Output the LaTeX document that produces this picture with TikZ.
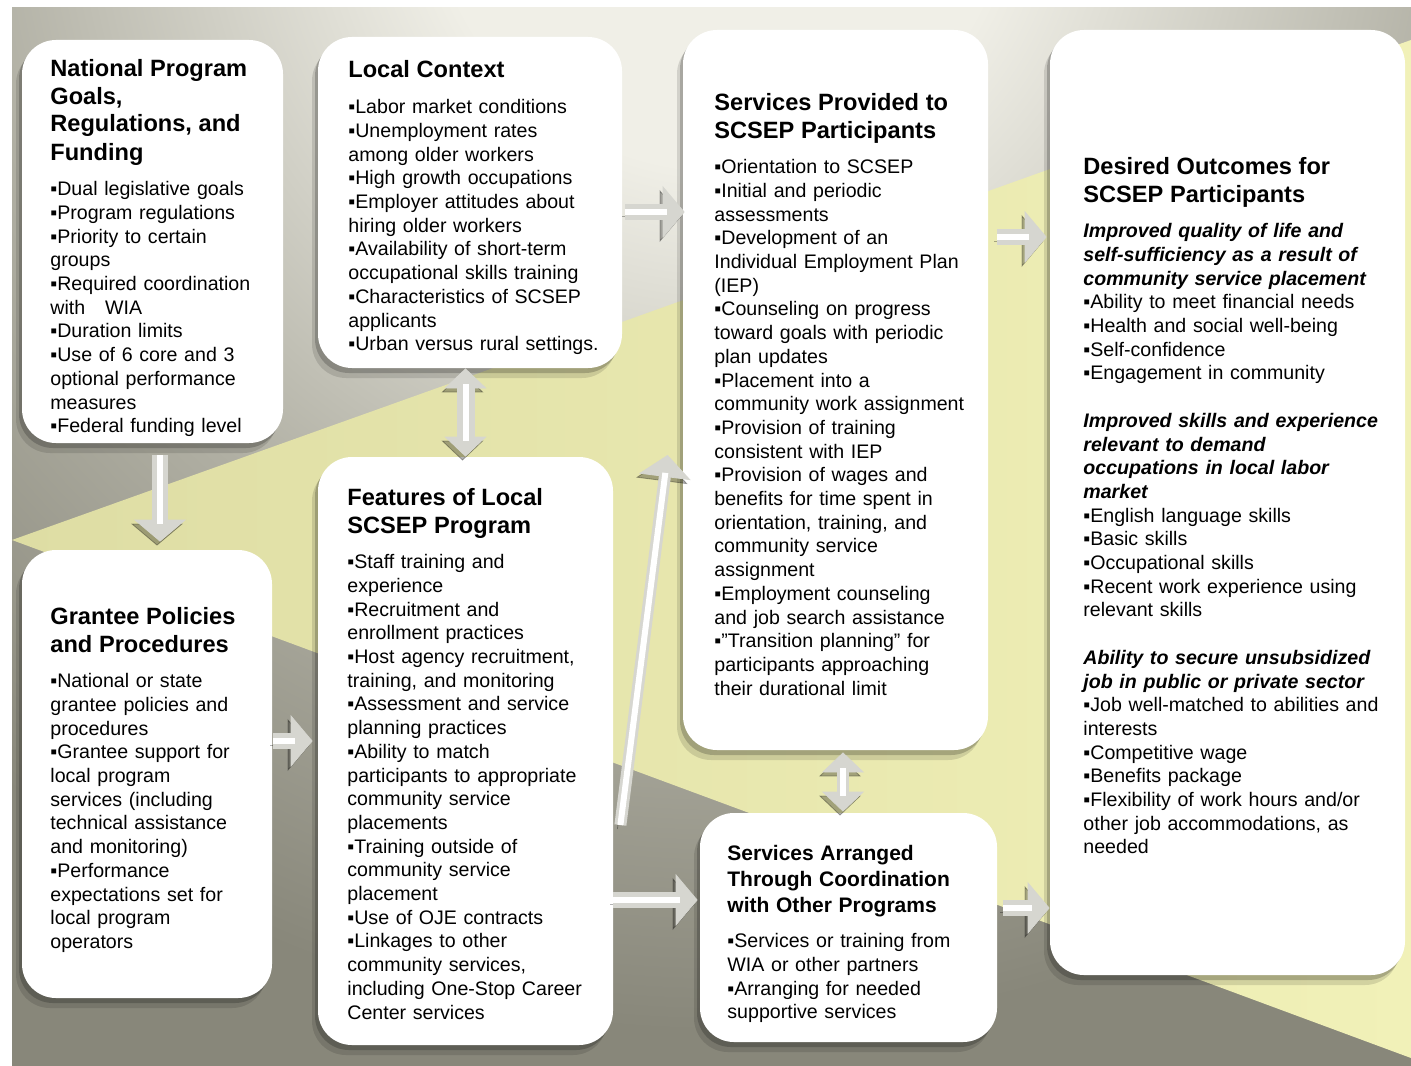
\documentclass[tikz,border=0pt]{standalone}
\usepackage{fontspec}
\setmainfont{Liberation Sans}
\usepackage{xcolor}
\usepackage{tikz}
\usetikzlibrary{arrows.meta,calc,fit,shadows}
\setlength{\parindent}{0pt}
\definecolor{BgLight}{RGB}{240,239,231}
\definecolor{BgMid}{RGB}{176,175,163}
\definecolor{BgDark}{RGB}{136,135,122}
\definecolor{YelLeft}{RGB}{222,221,164}
\definecolor{YelRight}{RGB}{241,241,184}
\definecolor{ArrowBody}{RGB}{214,214,208}
\pgfdeclareradialshading{backGlow}{\pgfpoint{0bp}{0bp}}{%
  color(0bp)=(BgLight); color(4bp)=(BgLight); color(10.5bp)=(BgMid); color(16bp)=(BgDark); color(50bp)=(BgDark)}
\newcommand{\HeadFont}{\fontsize{11.8}{14}\selectfont\bfseries}
\newcommand{\SmallHead}{\fontsize{10.5}{13}\selectfont\bfseries}
\newcommand{\ListFont}{\fontsize{9.8}{11.85}\selectfont}
\newcommand{\Sub}{\bfseries\itshape}
\newcommand{\Itm}{▪}
\tikzset{
  panel/.style={fill=white, rounded corners=17pt, inner sep=0pt,
    drop shadow={shadow xshift=-1.5pt,shadow yshift=-2.5pt,opacity=.2,fill=black},
    drop shadow={shadow xshift=-3pt,shadow yshift=-5pt,opacity=.12,fill=black}},
  panelText/.style={anchor=north west, inner sep=0pt, align=left},
  flow/.style={draw=ArrowBody, line width=8pt,
    -{Triangle[width=26pt,length=11pt,line width=0.4pt]},
    preaction={draw=black, opacity=.3, transform canvas={shift={(-1.5pt,-2pt)}}},
    postaction={draw=white, line width=3pt, -, shorten >=9pt}},
  twoway/.style={draw=ArrowBody, line width=9pt,
    {Triangle[width=21pt,length=10pt,line width=0.4pt]}-{Triangle[width=21pt,length=10pt,line width=0.4pt]},
    preaction={draw=black, opacity=.3, transform canvas={shift={(-1.5pt,-2pt)}}},
    postaction={draw=white, line width=3pt, -, shorten >=8pt, shorten <=8pt}}
}

\begin{document}
\begin{tikzpicture}[x=0.5pt,y=-0.5pt]
\useasboundingbox (0,0) rectangle (1411,1065);
% backdrop: grey glow and the yellow wedge
\begin{scope}
\clip (12,8) rectangle (1411,1065);
\fill[BgDark] (12,8) rectangle (1411,1065);
\shade[shading=backGlow] (720,-120) circle (1800);
\shade[left color=YelLeft, right color=YelRight] (12,540) -- (1411,40) -- (1411,1058) -- cycle;
\end{scope}

% the seven panels
\node[panel, fit={(22,40) (283,443)}] (nat) {};
\node[panel, fit={(318,37) (622,368)}] (loc) {};
\node[panel, fit={(683,30) (988,750)}] (svc) {};
\node[panel, fit={(1050,30) (1405,975)}] (out) {};
\node[panel, fit={(22,550) (272,998)}] (gra) {};
\node[panel, fit={(318,457) (613,1045)}] (feat) {};
\node[panel, fit={(700,813) (997,1042)}] (arr) {};

% arrows between panels
\draw[flow] ($(nat.south)+(7.5,12)$) -- ($(gra.north)+(13,-8)$);
\draw[twoway] (feat.north |- loc.south) -- (feat.north);
\draw[flow] ($(loc.east)+(3,9.5)$) -- ($(svc.west)+(2,-178)$);
\draw[flow] ($(svc.east)+(9,-153)$) -- ($(out.west)+(-3,-265.5)$);
\draw[flow] ($(gra.east)+(1,-33)$) -- ($(feat.west)+(-5,-10)$);
\draw[flow] ($(feat.east)+(0,149)$) -- ($(arr.west)+(-2,-27.5)$);
\draw[flow, line width=6pt] ($(feat.east)+(7,74)$) -- ($(svc.west)+(-15,65)$);
\draw[twoway, line width=6pt] ($(svc.south)+(7.5,2)$) -- ($(arr.north)+(-5.5,-1)$);
\draw[flow] ($(arr.east)+(6,-19.5)$) -- ($(out.west)+(0,405.5)$);

% panel texts
\node[panelText, text width=114pt] (natText) at (50,58.5) {%
{\HeadFont National Program\\Goals,\\Regulations, and\\Funding\par}
\vspace{6pt}
{\ListFont \Itm Dual legislative goals\\
\Itm Program regulations\\
\Itm Priority to certain\\
groups\\
\Itm Required coordination\\
with\ \ \ WIA\\
\Itm Duration limits\\
\Itm Use of 6 core and 3\\
optional performance\\
measures\\
\Itm Federal funding level\par}};

\node[panelText, text width=135pt] (locText) at (348,60.5) {%
{\HeadFont Local Context\par}
\vspace{6pt}
{\ListFont \Itm Labor market conditions\\
\Itm Unemployment rates\\
among older workers\\
\Itm High growth occupations\\
\Itm Employer attitudes about\\
hiring older workers\\
\Itm Availability of short-term\\
occupational skills training\\
\Itm Characteristics of SCSEP\\
applicants\\
\Itm Urban versus rural settings.\par}};

\node[panelText, text width=136pt] (svcText) at (714,92.5) {%
{\HeadFont Services Provided to\\SCSEP Participants\par}
\vspace{6pt}
{\ListFont \Itm Orientation to SCSEP\\
\Itm Initial and periodic\\
assessments\\
\Itm Development of an\\
Individual Employment Plan\\
(IEP)\\
\Itm Counseling on progress\\
toward goals with periodic\\
plan updates\\
\Itm Placement into a\\
community work assignment\\
\Itm Provision of training\\
consistent with IEP\\
\Itm Provision of wages and\\
benefits for time spent in\\
orientation, training, and\\
community service\\
assignment\\
\Itm Employment counseling\\
and job search assistance\\
\Itm "Transition planning" for\\
participants approaching\\
their durational limit\par}};

\node[panelText, text width=158pt] (outText) at (1083,156.5) {%
{\HeadFont Desired Outcomes for\\SCSEP Participants\par}
\vspace{6pt}
{\ListFont {\Sub Improved quality of life and\\
self-sufficiency as a result of\\
community service placement\\}
\Itm Ability to meet financial needs\\
\Itm Health and social well-being\\
\Itm Self-confidence\\
\Itm Engagement in community\par
\vspace{11.85pt}
{\Sub Improved skills and experience\\
relevant to demand\\
occupations in local labor\\
market\\}
\Itm English language skills\\
\Itm Basic skills\\
\Itm Occupational skills\\
\Itm Recent work experience using\\
relevant skills\par
\vspace{11.85pt}
{\Sub Ability to secure unsubsidized\\
job in public or private sector\\}
\Itm Job well-matched to abilities and\\
interests\\
\Itm Competitive wage\\
\Itm Benefits package\\
\Itm Flexibility of work hours and/or\\
other job accommodations, as\\
needed\par}};

\node[panelText, text width=108pt] (graText) at (50,606.5) {%
{\HeadFont Grantee Policies\\and Procedures\par}
\vspace{6pt}
{\ListFont \Itm National or state\\
grantee policies and\\
procedures\\
\Itm Grantee support for\\
local program\\
services (including\\
technical assistance\\
and monitoring)\\
\Itm Performance\\
expectations set for\\
local program\\
operators\par}};

\node[panelText, text width=131pt] (featText) at (347,487.5) {%
{\HeadFont Features of Local\\SCSEP Program\par}
\vspace{6pt}
{\ListFont \Itm Staff training and\\
experience\\
\Itm Recruitment and\\
enrollment practices\\
\Itm Host agency recruitment,\\
training, and monitoring\\
\Itm Assessment and service\\
planning practices\\
\Itm Ability to match\\
participants to appropriate\\
community service\\
placements\\
\Itm Training outside of\\
community service\\
placement\\
\Itm Use of OJE contracts\\
\Itm Linkages to other\\
community services,\\
including One-Stop Career\\
Center services\par}};

\node[panelText, text width=132pt] (arrText) at (727,844.5) {%
{\SmallHead Services Arranged\\Through Coordination\\with Other Programs\par}
\vspace{6pt}
{\ListFont \Itm Services or training from\\
WIA or other partners\\
\Itm Arranging for needed\\
supportive services\par}};
\end{tikzpicture}
\end{document}
